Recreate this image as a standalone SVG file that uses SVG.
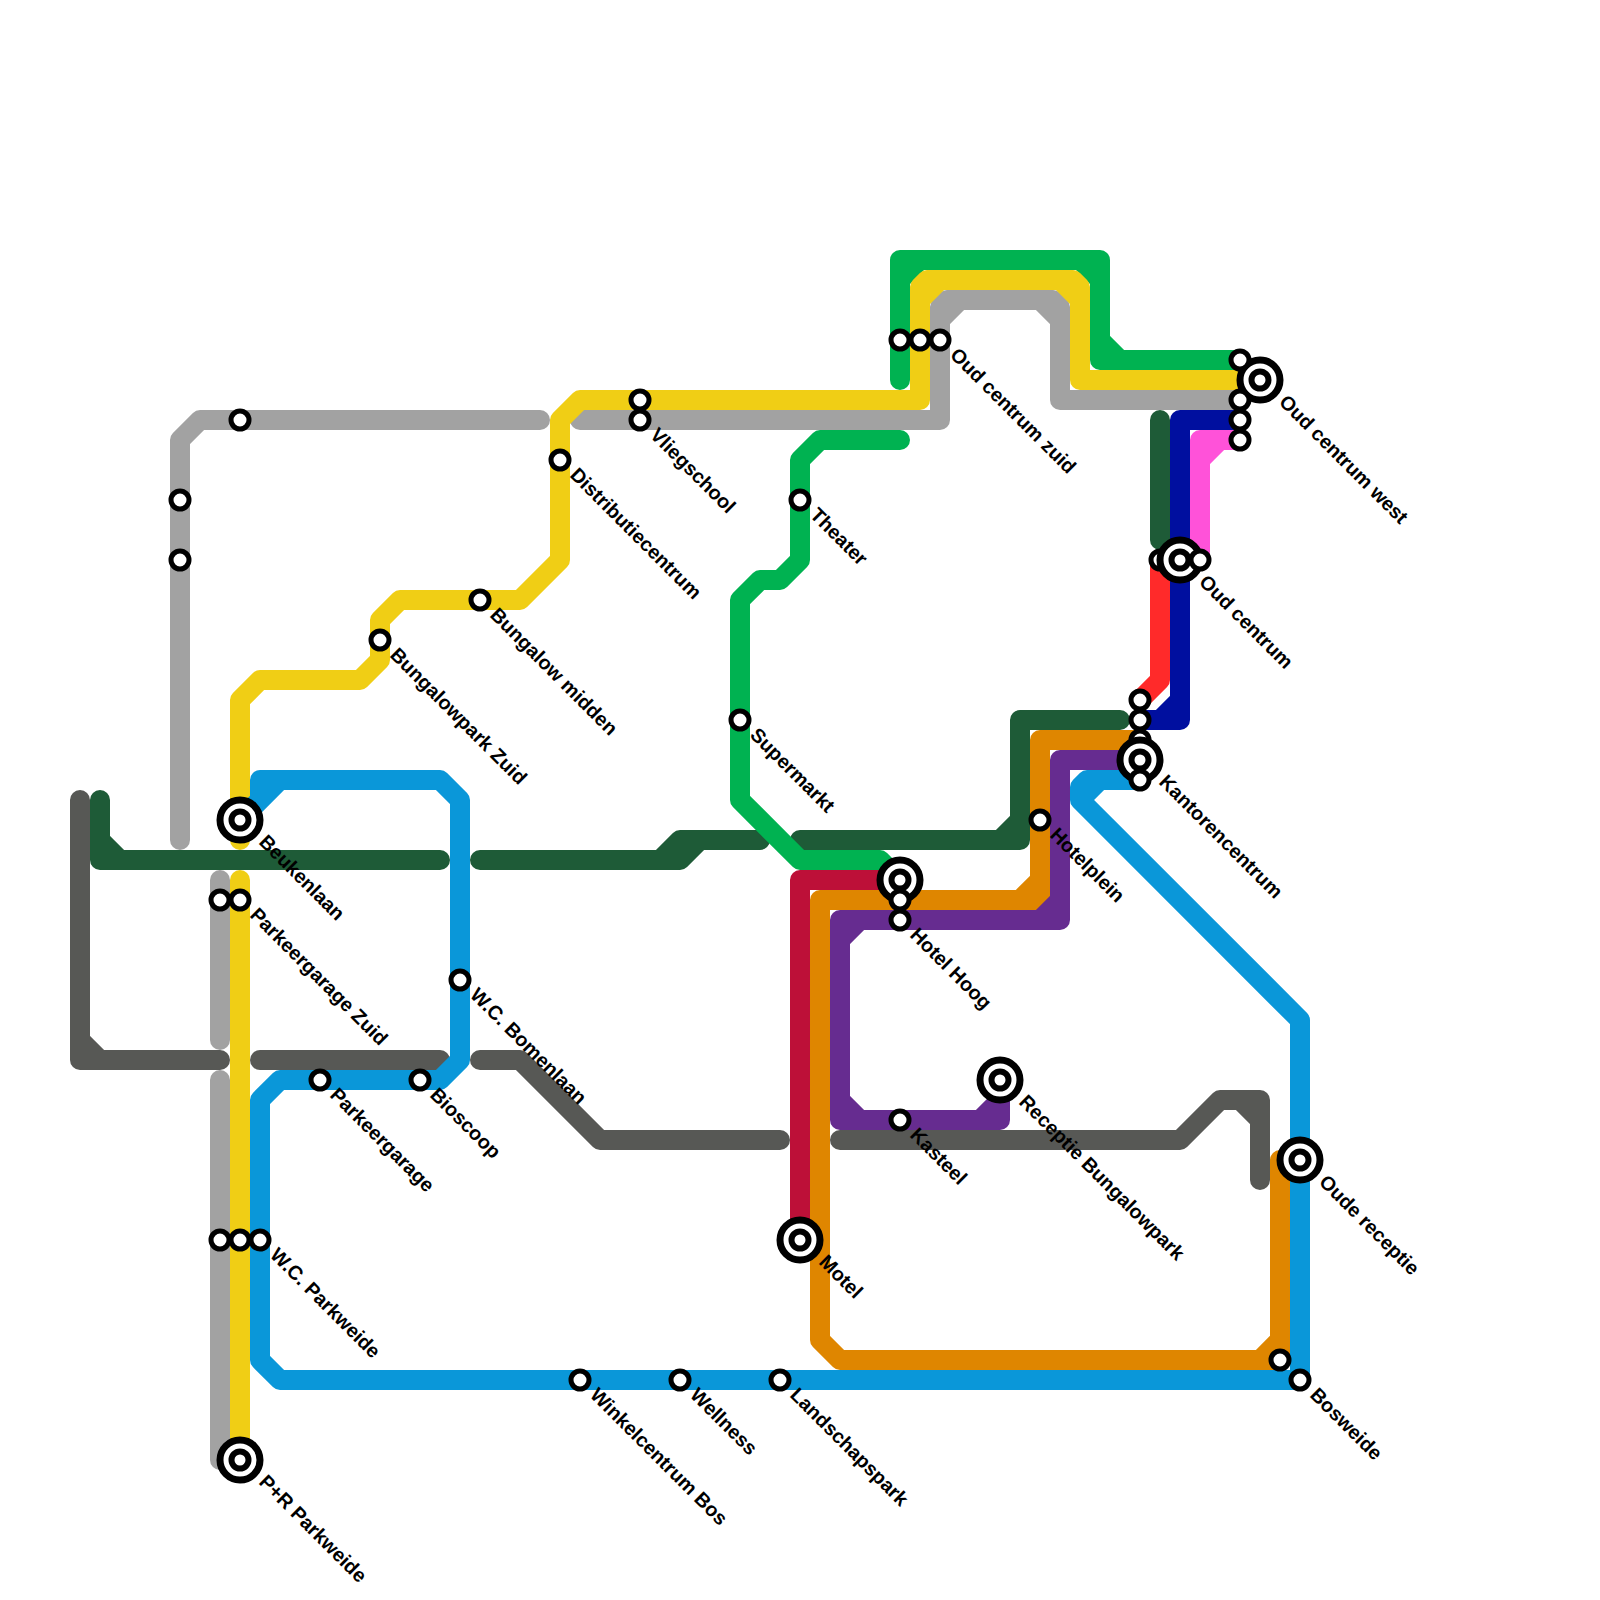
<svg xmlns="http://www.w3.org/2000/svg" width="1600" height="1600" viewBox="0 0 1600 1600">
<style>
.l{fill:none;stroke-width:20;stroke-linecap:round;stroke-linejoin:round}
.gy{stroke:#a2a2a2}.ye{stroke:#f0ce15}.bl{stroke:#0a97d9}.dg{stroke:#1e5b37}.ds{stroke:#575855}.gr{stroke:#00b251}.cr{stroke:#bd1038}.or{stroke:#df8600}.pu{stroke:#662c90}.na{stroke:#000f9f}.pk{stroke:#ff52d9}.re{stroke:#ff2a2a}
.o{fill:#fff;stroke:#000;stroke-width:7}
.i{fill:#fff;stroke:#000;stroke-width:6}
.s{fill:#fff;stroke:#000;stroke-width:5}
text{font-family:"Liberation Sans",Arial,sans-serif;font-size:19.8px;font-weight:700;fill:#000}
</style>
<defs>
<g id="small"><circle class="s" r="9"/></g>
<g id="big"><circle class="o" r="20"/><circle class="i" r="8.5"/></g>
</defs>
<g id="connectors">
<path class="l gy" d="M180,840V440L200,420H540"/>
<path class="l gy" d="M220,880V1040"/>
<path class="l gy" d="M220,1080V1460H240"/>
<path class="l gy" d="M580,420H940V307L947,300H1053L1060,307V400H1240M940,320L960,300M1040,300L1060,320"/>
<path class="l gr" d="M900,380V260H1100V360H1240M900,280L920,260M1080,260L1100,280M1100,340L1120,360"/>
<path class="l ye" d="M240,840V700L260,680H360L380,660V620L400,600H520L560,560V420L580,400H920V287L927,280H1073L1080,287V380H1260M920,300L940,280M1060,280L1080,300"/>
<path class="l ye" d="M240,880V1460"/>
<path class="l dg" d="M100,800V860H440M100,840L120,860"/>
<path class="l dg" d="M480,860H680L700,840H760M660,860L680,840H700"/>
<path class="l dg" d="M800,840H1020V720H1120M1000,840L1020,820"/>
<path class="l dg" d="M1160,420V540"/>
<path class="l ds" d="M80,800V1060H220M80,1040L100,1060"/>
<path class="l ds" d="M260,1060H440"/>
<path class="l ds" d="M480,1060H520L600,1140H780"/>
<path class="l ds" d="M840,1140H1180L1220,1100H1260V1180M1240,1100L1260,1120"/>
<path class="l gr" d="M900,440H820L800,460V560L780,580H760L740,600V800L800,860H880L900,880"/>
<path class="l cr" d="M800,1240V880H900"/>
<path class="l or" d="M1140,740H1040V900H820V1340L840,1360H1280V1160M1020,900L1040,880M1260,1360L1280,1340"/>
<path class="l pu" d="M1140,760H1060V920H840V1120H1000V1080M1040,920L1060,900M840,940L860,920M840,1100L860,1120M980,1120L1000,1100"/>
<path class="l bl" d="M240,820L280,780H440L460,800V1060L440,1080H280L260,1100V1360L280,1380H1300V1020L1080,800L1100,780H1140M260,800V780H280M1080,800V787L1087,780H1100"/>
<path class="l re" d="M1160,560V680L1140,700"/>
<path class="l na" d="M1240,420H1180V720H1140M1180,700L1160,720"/>
<path class="l pk" d="M1240,440H1200V560M1200,460L1220,440"/>
</g>
<g id="stations">
<g id="st-01"><use href="#small" x="240" y="420"/></g>
<g id="st-02"><use href="#small" x="180" y="500"/></g>
<g id="st-03"><use href="#small" x="180" y="560"/></g>
<g id="st-04"><use href="#big" x="240" y="820"/><text transform="translate(258,843) rotate(45)">Beukenlaan</text></g>
<g id="st-05"><use href="#small" x="220" y="900"/></g>
<g id="st-06"><use href="#small" x="240" y="900"/><text transform="translate(249,916) rotate(45)">Parkeergarage Zuid</text></g>
<g id="st-07"><use href="#small" x="320" y="1080"/><text transform="translate(329,1096) rotate(45)">Parkeergarage</text></g>
<g id="st-08"><use href="#small" x="420" y="1080"/><text transform="translate(429,1096) rotate(45)">Bioscoop</text></g>
<g id="st-09"><use href="#small" x="460" y="980"/><text transform="translate(469,996) rotate(45)">W.C. Bomenlaan</text></g>
<g id="st-10"><use href="#small" x="220" y="1240"/></g>
<g id="st-11"><use href="#small" x="240" y="1240"/></g>
<g id="st-12"><use href="#small" x="260" y="1240"/><text transform="translate(269,1256) rotate(45)">W.C. Parkweide</text></g>
<g id="st-13"><use href="#big" x="240" y="1460"/><text transform="translate(258,1483) rotate(45)">P+R Parkweide</text></g>
<g id="st-14"><use href="#small" x="380" y="640"/><text transform="translate(389,656) rotate(45)">Bungalowpark Zuid</text></g>
<g id="st-15"><use href="#small" x="480" y="600"/><text transform="translate(489,616) rotate(45)">Bungalow midden</text></g>
<g id="st-16"><use href="#small" x="560" y="460"/><text transform="translate(569,476) rotate(45)">Distributiecentrum</text></g>
<g id="st-17"><use href="#small" x="640" y="400"/></g>
<g id="st-18"><use href="#small" x="640" y="420"/><text transform="translate(649,436) rotate(45)">Vliegschool</text></g>
<g id="st-19"><use href="#small" x="800" y="500"/><text transform="translate(809,516) rotate(45)">Theater</text></g>
<g id="st-20"><use href="#small" x="740" y="720"/><text transform="translate(749,736) rotate(45)">Supermarkt</text></g>
<g id="st-21"><use href="#small" x="900" y="340"/></g>
<g id="st-22"><use href="#small" x="920" y="340"/></g>
<g id="st-23"><use href="#small" x="940" y="340"/><text transform="translate(949,356) rotate(45)">Oud centrum zuid</text></g>
<g id="st-24"><use href="#big" x="900" y="880"/></g>
<g id="st-25"><use href="#small" x="900" y="900"/></g>
<g id="st-26"><use href="#small" x="900" y="920"/><text transform="translate(909,936) rotate(45)">Hotel Hoog</text></g>
<g id="st-27"><use href="#small" x="1040" y="820"/><text transform="translate(1049,836) rotate(45)">Hotelplein</text></g>
<g id="st-28"><use href="#big" x="1000" y="1080"/><text transform="translate(1018,1103) rotate(45)">Receptie Bungalowpark</text></g>
<g id="st-29"><use href="#small" x="900" y="1120"/><text transform="translate(909,1136) rotate(45)">Kasteel</text></g>
<g id="st-30"><use href="#big" x="800" y="1240"/><text transform="translate(818,1263) rotate(45)">Motel</text></g>
<g id="st-31"><use href="#small" x="580" y="1380"/><text transform="translate(589,1396) rotate(45)">Winkelcentrum Bos</text></g>
<g id="st-32"><use href="#small" x="680" y="1380"/><text transform="translate(689,1396) rotate(45)">Wellness</text></g>
<g id="st-33"><use href="#small" x="780" y="1380"/><text transform="translate(789,1396) rotate(45)">Landschapspark</text></g>
<g id="st-34"><use href="#small" x="1280" y="1360"/></g>
<g id="st-35"><use href="#small" x="1300" y="1380"/><text transform="translate(1309,1396) rotate(45)">Bosweide</text></g>
<g id="st-36"><use href="#big" x="1300" y="1160"/><text transform="translate(1318,1183) rotate(45)">Oude receptie</text></g>
<g id="st-38"><use href="#big" x="1260" y="380"/><text transform="translate(1278,403) rotate(45)">Oud centrum west</text></g>
<g id="st-37"><use href="#small" x="1240" y="360"/></g>
<g id="st-39"><use href="#small" x="1240" y="400"/></g>
<g id="st-40"><use href="#small" x="1240" y="420"/></g>
<g id="st-41"><use href="#small" x="1240" y="440"/></g>
<g id="st-42"><use href="#small" x="1160" y="560"/></g>
<g id="st-43"><use href="#big" x="1180" y="560"/><text transform="translate(1198,583) rotate(45)">Oud centrum</text></g>
<g id="st-44"><use href="#small" x="1200" y="560"/></g>
<g id="st-45"><use href="#small" x="1140" y="700"/></g>
<g id="st-46"><use href="#small" x="1140" y="720"/></g>
<g id="st-47"><use href="#small" x="1140" y="740"/></g>
<g id="st-48"><use href="#big" x="1140" y="760"/><text transform="translate(1158,783) rotate(45)">Kantorencentrum</text></g>
<g id="st-49"><use href="#small" x="1140" y="780"/></g>
</g>
</svg>
